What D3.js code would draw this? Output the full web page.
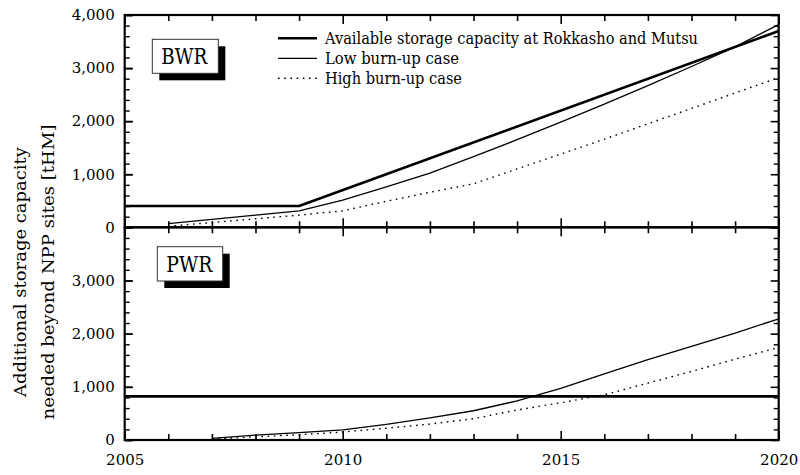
<!DOCTYPE html>
<html>
<head>
<meta charset="utf-8">
<script src="https://cdn.jsdelivr.net/npm/d3@7"></script>
<style>
  html, body { margin: 0; padding: 0; background: #fff; }
  svg { display: block; }
  .tick text { font-family: "DejaVu Serif", serif; font-size: 15px; fill: #000; }
  .serif { font-family: "DejaVu Serif", serif; fill: #000; }
</style>
</head>
<body>
<svg id="chart" width="800" height="475"></svg>
<script>
// Additional storage capacity [tHM] needed beyond NPP sites
const bwrYears      = [2006, 2007, 2008, 2009, 2010, 2011, 2012, 2013, 2014, 2015, 2016, 2017, 2018, 2019, 2020];
const bwrLow        = [70, 150, 230, 310, 510, 760, 1020, 1330, 1650, 1980, 2320, 2670, 3030, 3400, 3820];
const bwrHigh       = [20, 90, 160, 230, 310, 490, 660, 820, 1100, 1380, 1660, 1950, 2240, 2530, 2820];
const bwrAvailYears = [2005, 2009, 2020];
const bwrAvail      = [400, 400, 3700];

const pwrYears      = [2007, 2008, 2009, 2010, 2011, 2012, 2013, 2014, 2015, 2016, 2017, 2018, 2019, 2020];
const pwrLow        = [30, 90, 140, 190, 295, 415, 550, 735, 970, 1245, 1510, 1760, 2010, 2280];
const pwrHigh       = [20, 60, 100, 150, 220, 300, 400, 565, 700, 850, 1070, 1290, 1520, 1740];
const pwrAvailYears = [2005, 2020];
const pwrAvail      = [820, 820];

const xTickLabels   = [2005, 2010, 2015, 2020];
const bwrTickLabels = [0, 1000, 2000, 3000, 4000];
const pwrTickLabels = [0, 1000, 2000, 3000];
const legendLabels  = ["Available storage capacity at Rokkasho and Mutsu", "Low burn-up case", "High burn-up case"];

const svg = d3.select("#chart");
const left = 124.7, right = 778.7;
const x = d3.scaleLinear().domain([2005, 2020]).range([left, right]);
const yB = d3.scaleLinear().domain([0, 4000]).range([227.3, 15]);
const yP = d3.scaleLinear().domain([0, 4000]).range([440, 227.3]);

const allYears = d3.range(2005, 2021);

function drawPanel(y, labels, showX) {
  const g = svg.append("g");
  const majorY = d3.range(0, 4001, 1000);
  const minorY = d3.range(0, 4001, 200).filter(v => v % 1000 !== 0);

  // left axis: labels + inward ticks
  g.append("g").attr("transform", `translate(${left},0)`)
    .call(d3.axisLeft(y).tickValues(labels).tickFormat(d3.format(",")).tickSizeInner(-8).tickSizeOuter(0).tickPadding(10))
    .call(a => a.select(".domain").remove())
    .call(a => a.selectAll("line").attr("stroke", "#000").attr("stroke-width", 1.6));
  g.append("g").attr("transform", `translate(${left},0)`)
    .call(d3.axisLeft(y).tickValues(majorY).tickFormat("").tickSizeInner(-8).tickSizeOuter(0))
    .call(a => a.select(".domain").remove())
    .call(a => a.selectAll("line").attr("stroke", "#000").attr("stroke-width", 1.6));
  g.append("g").attr("transform", `translate(${left},0)`)
    .call(d3.axisLeft(y).tickValues(minorY).tickFormat("").tickSizeInner(-5).tickSizeOuter(0))
    .call(a => a.select(".domain").remove())
    .call(a => a.selectAll("line").attr("stroke", "#000").attr("stroke-width", 1.4));
  // right axis: inward ticks
  g.append("g").attr("transform", `translate(${right},0)`)
    .call(d3.axisRight(y).tickValues(majorY).tickFormat("").tickSizeInner(-8).tickSizeOuter(0))
    .call(a => a.select(".domain").remove())
    .call(a => a.selectAll("line").attr("stroke", "#000").attr("stroke-width", 1.6));
  g.append("g").attr("transform", `translate(${right},0)`)
    .call(d3.axisRight(y).tickValues(minorY).tickFormat("").tickSizeInner(-5).tickSizeOuter(0))
    .call(a => a.select(".domain").remove())
    .call(a => a.selectAll("line").attr("stroke", "#000").attr("stroke-width", 1.4));

  // x ticks at top (pointing down) and bottom (pointing up)
  const majorX = allYears.filter(v => v % 5 === 0);
  const minorX = allYears.filter(v => v % 5 !== 0);
  [[majorX, 9], [minorX, 6]].forEach(([vals, len]) => {
    g.append("g").attr("transform", `translate(0,${y(4000)})`)
      .call(d3.axisTop(x).tickValues(vals).tickFormat("").tickSizeInner(-len).tickSizeOuter(0))
      .call(a => a.select(".domain").remove())
      .call(a => a.selectAll("line").attr("stroke", "#000").attr("stroke-width", 1.6));
    g.append("g").attr("transform", `translate(0,${y(0)})`)
      .call(d3.axisBottom(x).tickValues(vals).tickFormat("").tickSizeInner(-len).tickSizeOuter(0))
      .call(a => a.select(".domain").remove())
      .call(a => a.selectAll("line").attr("stroke", "#000").attr("stroke-width", 1.6));
  });
  if (showX) {
    g.append("g").attr("transform", `translate(0,${y(0)})`)
      .call(d3.axisBottom(x).tickValues(xTickLabels).tickFormat(d3.format("d")).tickSize(0).tickPadding(14))
      .call(a => a.select(".domain").remove());
  }
  // frame
  g.append("rect")
    .attr("x", left).attr("y", y(4000))
    .attr("width", right - left).attr("height", y(0) - y(4000))
    .attr("fill", "none").attr("stroke", "#000").attr("stroke-width", 2.2);
  return g;
}

drawPanel(yB, bwrTickLabels, false);
drawPanel(yP, pwrTickLabels, true);

function styleLine(sel, style) {
  sel.attr("fill", "none").attr("stroke", "#000").attr("stroke-linejoin", "round");
  if (style === "thick") sel.attr("stroke-width", 2.6);
  if (style === "thin") sel.attr("stroke-width", 1.3);
  if (style === "dot") sel.attr("stroke-width", 1.4).attr("stroke-dasharray", "1.6,4.6");
}

function series(yearsArr, vals, y, style) {
  const line = d3.line().x(d => x(d[0])).y(d => y(d[1]));
  svg.append("path")
    .datum(yearsArr.map((yr, i) => [yr, vals[i]]))
    .attr("d", line)
    .call(styleLine, style);
}

series(bwrAvailYears, bwrAvail, yB, "thick");
series(bwrYears, bwrLow, yB, "thin");
series(bwrYears, bwrHigh, yB, "dot");
series(pwrAvailYears, pwrAvail, yP, "thick");
series(pwrYears, pwrLow, yP, "thin");
series(pwrYears, pwrHigh, yP, "dot");

// panel labels with drop shadow
function tagBox(label, bx, by, bw, bh) {
  svg.append("rect").attr("x", bx + 7).attr("y", by + 7).attr("width", bw).attr("height", bh).attr("fill", "#000");
  svg.append("rect").attr("x", bx).attr("y", by).attr("width", bw).attr("height", bh)
    .attr("fill", "#fff").attr("stroke", "#333").attr("stroke-width", 1);
  svg.append("text").attr("class", "serif")
    .attr("x", bx + 9).attr("y", by + bh / 2 + 8)
    .style("font-size", "22px")
    .attr("textLength", 46).attr("lengthAdjust", "spacingAndGlyphs")
    .text(label);
}
tagBox("BWR", 152.3, 39.3, 66, 34);
tagBox("PWR", 157.3, 246.7, 65.4, 34.3);

// legend
const legendStyles = ["thick", "thin", "dot"];
const legendWidths = [373, 134, 137];
legendLabels.forEach((lab, i) => {
  const ly = 38.3 + i * 20;
  svg.append("line").attr("x1", 278).attr("x2", 317).attr("y1", ly).attr("y2", ly)
    .call(styleLine, legendStyles[i]);
  svg.append("text").attr("class", "serif")
    .attr("x", 325).attr("y", ly + 6)
    .style("font-size", "17px")
    .attr("textLength", legendWidths[i]).attr("lengthAdjust", "spacingAndGlyphs")
    .text(lab);
});

// y-axis title
const yTitle = svg.append("g").attr("transform", "translate(0,272) rotate(-90)");
yTitle.append("text").attr("class", "serif")
  .attr("x", 0).attr("y", 26).attr("text-anchor", "middle")
  .style("font-size", "17px")
  .attr("textLength", 250).attr("lengthAdjust", "spacingAndGlyphs")
  .text("Additional storage capacity");
yTitle.append("text").attr("class", "serif")
  .attr("x", 0).attr("y", 54).attr("text-anchor", "middle")
  .style("font-size", "17px")
  .attr("textLength", 295).attr("lengthAdjust", "spacingAndGlyphs")
  .text("needed beyond NPP sites [tHM]");
</script>
</body>
</html>
